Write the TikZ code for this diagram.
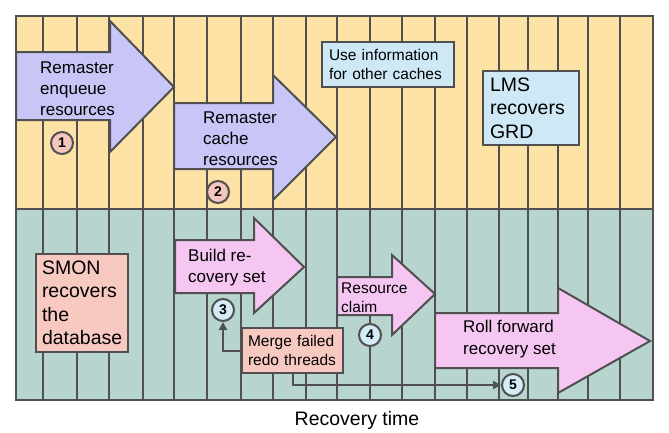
\documentclass[tikz,border=0pt]{standalone}
\usepackage{fontspec}
\setmainfont{Liberation Sans}
\usetikzlibrary{arrows.meta}
\definecolor{ybg}{HTML}{FDE2A6}
\definecolor{gbg}{HTML}{B8D4CE}
\definecolor{lav}{HTML}{C8C5F7}
\definecolor{pinkarr}{HTML}{F6C6F3}
\definecolor{lblue}{HTML}{CEE8F6}
\definecolor{salmon}{HTML}{F8C9C0}
\definecolor{cpink}{HTML}{F4C6BE}
\definecolor{cblue}{HTML}{D3ECF8}
\definecolor{dline}{HTML}{505050}
\tikzset{
  grid/.style={draw=dline, line width=2pt},
  bigarrow/.style={draw=dline, line width=2pt, line join=miter},
  box/.style={draw=dline, line width=2pt, rectangle, inner ysep=0pt, align=left, anchor=north west},
  arrtext/.style={anchor=west, inner sep=0pt, align=left, font=\fontsize{17}{21}\selectfont},
  smalltext/.style={font=\fontsize{15.5}{18.5}\selectfont},
  bigtext/.style={font=\fontsize{19.5}{23.5}\selectfont},
  num/.style={circle, draw=dline, line width=2pt, minimum size=22pt, inner sep=0pt, font=\fontsize{14}{14}\selectfont\bfseries},
  conn/.style={draw=dline, line width=2pt, -{Triangle[length=8pt,width=8pt]}}
}
\begin{document}
\begin{tikzpicture}[x=1pt,y=-1pt]
\useasboundingbox (0,0) rectangle (669,432);
\fill[white] (0,0) rectangle (669,432);
% backgrounds
\fill[ybg] (16,16) rectangle (653,208.5);
\fill[gbg] (16,208.5) rectangle (653,400);
\foreach \x in {43,77,109,143,174,207,241,273,306,337,370,402,435,467,499,528,558,588,620}
  \draw[grid] (\x,16) -- (\x,400);
\draw[grid] (16,208.5) -- (653,208.5);
\draw[grid] (16,16) rectangle (653,400);

% top arrows
\draw[bigarrow, fill=lav] (16,52) -- (110,52) -- (110,21) -- (174,87) -- (110,152) -- (110,120) -- (16,120) -- cycle;
\node[arrtext] (t1) at (40,89) {Remaster\\enqueue\\resources};
\draw[bigarrow, fill=lav] (174,103) -- (273,103) -- (273,75) -- (336,137) -- (273,200) -- (273,169) -- (174,169) -- cycle;
\node[arrtext] (t2) at (203,138.5) {Remaster\\cache\\resources};
\node[num, fill=cpink] (c1) at (62,143) {1};
\node[num, fill=cpink] (c2) at (218,192) {2};

% top boxes
\node[box, smalltext, fill=lblue, minimum width=132pt, minimum height=45pt, text width=118pt, inner xsep=7pt] (use) at (321,41) {Use information\\for other caches};
\node[box, bigtext, fill=lblue, minimum width=96pt, minimum height=74pt, text width=82pt, inner xsep=7pt] (lms) at (482,70) {LMS\\recovers\\GRD};

% bottom
\node[box, bigtext, fill=salmon, minimum width=92pt, minimum height=98pt, text width=80pt, inner xsep=6pt] (smon) at (35,253) {SMON\\recovers\\the\\database};

\draw[bigarrow, fill=pinkarr] (175,240) -- (254,240) -- (254,218) -- (304,267) -- (254,313) -- (254,293) -- (175,293) -- cycle;
\node[arrtext] (t3) at (188,267.5) {Build re-\\covery set};

\draw[bigarrow, fill=pinkarr] (337,277) -- (392,277) -- (392,255) -- (435,294) -- (392,335) -- (392,315) -- (337,315) -- cycle;
\node[arrtext, font=\fontsize{15.5}{19}\selectfont] (t4) at (341,297.5) {Resource\\claim};

\draw[bigarrow, fill=pinkarr] (435,313) -- (558,313) -- (558,288) -- (650,341) -- (558,393) -- (558,368) -- (435,368) -- cycle;
\node[arrtext, font=\fontsize{17}{22}\selectfont] (t5) at (463,339) {Roll forward\\recovery set};

\node[box, smalltext, fill=salmon, minimum width=101pt, minimum height=45pt, text width=89pt, inner xsep=6pt] (merge) at (241,327) {Merge failed\\redo threads};

\node[num, fill=cblue] (c3) at (223,310) {3};
\node[num, fill=cblue] (c4) at (370,335) {4};
\node[num, fill=cblue] (c5) at (513,385) {5};

\draw[conn] (merge.west) -| (c3);
\draw[conn] (merge.south) |- (c5);

\node[anchor=base, inner sep=0pt, font=\fontsize{19.5}{23}\selectfont] (rt) at (357,425) {Recovery time};
\end{tikzpicture}
\end{document}
